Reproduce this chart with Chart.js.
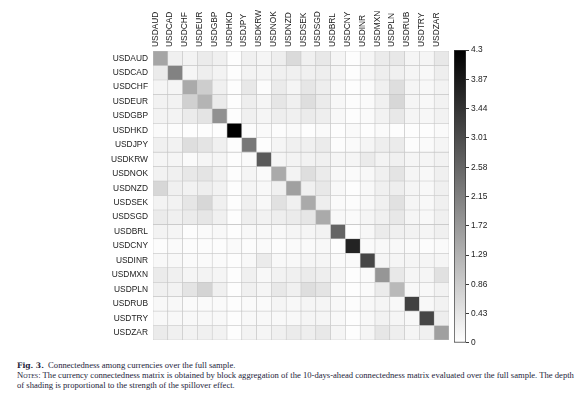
<!DOCTYPE html>
<html>
<head>
<meta charset="utf-8">
<script src="https://cdn.jsdelivr.net/npm/chart.js@4"></script>
<style>
    body { margin: 0; background: #fff; width: 584px; height: 393px; overflow: hidden; position: relative; }
    #matrixWrap { position: absolute; left: 0; top: 0; width: 460px; height: 350px; }
    #barWrap { position: absolute; left: 440px; top: 0; width: 144px; height: 350px; }
    .caption { position: absolute; left: 17px; font-family: "Liberation Serif", serif; font-size: 8.6px; color: #1d1d3a; white-space: nowrap; }
    .caption b { font-family: "DejaVu Serif", serif; font-size: 7.6px; }
    .sc { font-variant: small-caps; }
</style>
</head>
<body>
<div id="matrixWrap"><canvas id="matrix"></canvas></div>
<div id="barWrap"><canvas id="colorbar"></canvas></div>
<div class="caption" style="top: 360px;"><b>Fig. 3.</b>&nbsp; Connectedness among currencies over the full sample.</div>
<div class="caption" style="top: 370px;"><span class="sc">Notes</span>: The currency connectedness matrix is obtained by block aggregation of the 10-days-ahead connectedness matrix evaluated over the full sample. The depth</div>
<div class="caption" style="top: 379.5px;">of shading is proportional to the strength of the spillover effect.</div>

<script>
    const currencies = ["USDAUD", "USDCAD", "USDCHF", "USDEUR", "USDGBP", "USDHKD", "USDJPY", "USDKRW", "USDNOK", "USDNZD",
        "USDSEK", "USDSGD", "USDBRL", "USDCNY", "USDINR", "USDMXN", "USDPLN", "USDRUB", "USDTRY", "USDZAR"];

    // one row per "from" currency, columns in the same order as currencies
    const AUD = [1.52, 0.25, 0.20, 0.34, 0.25, 0.03, 0.25, 0.17, 0.29, 0.62, 0.25, 0.39, 0.17, 0.03, 0.17, 0.34, 0.39, 0.17, 0.17, 0.39];
    const CAD = [0.34, 2.11, 0.17, 0.29, 0.20, 0.03, 0.20, 0.17, 0.25, 0.25, 0.25, 0.29, 0.17, 0.03, 0.17, 0.29, 0.25, 0.17, 0.12, 0.29];
    const CHF = [0.17, 0.17, 1.43, 0.84, 0.25, 0.03, 0.39, 0.05, 0.34, 0.17, 0.42, 0.29, 0.12, 0.03, 0.08, 0.25, 0.56, 0.17, 0.12, 0.20];
    const EUR = [0.22, 0.22, 0.79, 1.26, 0.34, 0.03, 0.29, 0.17, 0.42, 0.25, 0.56, 0.34, 0.13, 0.05, 0.08, 0.25, 0.67, 0.17, 0.12, 0.22];
    const GBP = [0.20, 0.20, 0.34, 0.46, 1.85, 0.03, 0.25, 0.17, 0.29, 0.25, 0.34, 0.29, 0.12, 0.03, 0.08, 0.22, 0.39, 0.17, 0.13, 0.22];
    const HKD = [0.08, 0.05, 0.03, 0.03, 0.03, 4.30, 0.05, 0.08, 0.05, 0.08, 0.03, 0.08, 0.03, 0.08, 0.03, 0.08, 0.03, 0.03, 0.03, 0.08];
    const JPY = [0.25, 0.22, 0.56, 0.46, 0.25, 0.03, 2.28, 0.03, 0.17, 0.25, 0.25, 0.34, 0.05, 0.08, 0.17, 0.29, 0.34, 0.05, 0.08, 0.17];
    const KRW = [0.17, 0.17, 0.08, 0.17, 0.17, 0.03, 0.08, 2.78, 0.17, 0.20, 0.22, 0.25, 0.17, 0.17, 0.34, 0.20, 0.25, 0.17, 0.17, 0.22];
    const NOK = [0.22, 0.25, 0.39, 0.46, 0.25, 0.03, 0.17, 0.08, 1.43, 0.20, 0.56, 0.34, 0.12, 0.08, 0.12, 0.25, 0.46, 0.17, 0.12, 0.25];
    const NZD = [0.67, 0.25, 0.22, 0.29, 0.22, 0.03, 0.17, 0.12, 0.25, 1.60, 0.25, 0.39, 0.12, 0.03, 0.12, 0.25, 0.29, 0.17, 0.12, 0.25];
    const SEK = [0.20, 0.22, 0.42, 0.67, 0.25, 0.03, 0.25, 0.12, 0.51, 0.25, 1.43, 0.29, 0.08, 0.05, 0.12, 0.25, 0.51, 0.17, 0.12, 0.25];
    const SGD = [0.34, 0.25, 0.34, 0.42, 0.25, 0.03, 0.29, 0.22, 0.29, 0.34, 0.42, 1.43, 0.12, 0.08, 0.17, 0.25, 0.39, 0.17, 0.12, 0.25];
    const BRL = [0.20, 0.17, 0.05, 0.08, 0.12, 0.03, 0.12, 0.12, 0.12, 0.17, 0.17, 0.22, 2.61, 0.03, 0.13, 0.34, 0.25, 0.22, 0.17, 0.25];
    const CNY = [0.05, 0.08, 0.05, 0.05, 0.05, 0.08, 0.05, 0.08, 0.05, 0.08, 0.08, 0.12, 0.03, 3.71, 0.08, 0.12, 0.12, 0.08, 0.05, 0.08];
    const INR = [0.12, 0.12, 0.08, 0.08, 0.08, 0.03, 0.12, 0.34, 0.12, 0.12, 0.17, 0.17, 0.08, 0.08, 3.12, 0.17, 0.17, 0.17, 0.17, 0.17];
    const MXN = [0.34, 0.25, 0.17, 0.20, 0.17, 0.03, 0.25, 0.12, 0.22, 0.25, 0.34, 0.29, 0.17, 0.03, 0.08, 1.77, 0.39, 0.17, 0.17, 0.51];
    const PLN = [0.25, 0.22, 0.46, 0.72, 0.25, 0.03, 0.25, 0.17, 0.39, 0.25, 0.56, 0.46, 0.12, 0.03, 0.08, 0.34, 1.18, 0.12, 0.12, 0.22];
    const RUB = [0.12, 0.12, 0.08, 0.08, 0.08, 0.03, 0.08, 0.08, 0.17, 0.12, 0.17, 0.17, 0.12, 0.05, 0.12, 0.17, 0.12, 3.20, 0.12, 0.22];
    const TRY = [0.12, 0.12, 0.12, 0.12, 0.12, 0.03, 0.12, 0.12, 0.12, 0.12, 0.17, 0.17, 0.12, 0.03, 0.12, 0.22, 0.17, 0.12, 3.12, 0.29];
    const ZAR = [0.34, 0.25, 0.22, 0.25, 0.22, 0.03, 0.20, 0.17, 0.25, 0.34, 0.29, 0.39, 0.17, 0.03, 0.17, 0.42, 0.29, 0.17, 0.25, 1.60];

    const rows = [AUD, CAD, CHF, EUR, GBP, HKD, JPY, KRW, NOK, NZD, SEK, SGD, BRL, CNY, INR, MXN, PLN, RUB, TRY, ZAR];

    const scaleMax = 4.3;
    const colorTicks = ["0", "0.43", "0.86", "1.29", "1.72", "2.15", "2.58", "3.01", "3.44", "3.87", "4.3"];

    const labelFont = { family: "'Liberation Sans', Arial, sans-serif", size: 8.4 };

    function shade(v) {
        const g = Math.round(255 * (1 - Math.min(v, scaleMax) / scaleMax));
        return "rgb(" + g + ", " + g + ", " + g + ")";
    }

    // each row is a stack of unit-height bars, one per column
    const datasets = rows.map(function (row, r) {
        return {
            label: currencies[r],
            data: row.map(function () { return 1; }),
            backgroundColor: row.map(shade),
            borderColor: "#c6c6c6",
            borderWidth: 0.6,
            borderSkipped: false,
            barPercentage: 1,
            categoryPercentage: 1
        };
    });

    new Chart(document.getElementById("matrix"), {
        type: "bar",
        data: { labels: currencies, datasets: datasets },
        options: {
            responsive: true,
            maintainAspectRatio: false,
            animation: false,
            layout: { padding: { left: 0, top: 0, right: 11, bottom: 5 } },
            plugins: { legend: { display: false }, tooltip: { enabled: false } },
            scales: {
                x: {
                    position: "top",
                    stacked: true,
                    grid: { display: false, drawTicks: false },
                    border: { display: false },
                    ticks: { minRotation: 90, maxRotation: 90, autoSkip: false, padding: 4, labelOffset: 5, color: "#222", font: labelFont },
                    afterFit: function (scale) { scale.height = 51; }
                },
                y: {
                    stacked: true,
                    reverse: true,
                    min: 0,
                    max: currencies.length,
                    grid: { display: false, drawTicks: false },
                    border: { display: false },
                    afterBuildTicks: function (scale) {
                        scale.ticks = currencies.map(function (_, i) { return { value: i + 0.5 }; });
                    },
                    ticks: {
                        autoSkip: false,
                        padding: 5,
                        color: "#222",
                        font: labelFont,
                        callback: function (value, index) { return currencies[index]; }
                    },
                    afterFit: function (scale) { scale.width = 153; }
                }
            }
        }
    });

    // colour bar: a single bar from 0 to the maximum, filled with the grey ramp
    new Chart(document.getElementById("colorbar"), {
        type: "bar",
        data: {
            labels: ["scale"],
            datasets: [{
                data: [[0, scaleMax]],
                backgroundColor: function (ctx) {
                    const area = ctx.chart.chartArea;
                    if (!area) {
                        return "#888";
                    }
                    const gradient = ctx.chart.ctx.createLinearGradient(0, area.bottom, 0, area.top);
                    gradient.addColorStop(0, "#ffffff");
                    gradient.addColorStop(1, "#000000");
                    return gradient;
                },
                borderColor: "#3a3a3a",
                borderWidth: 1,
                borderSkipped: false,
                barPercentage: 1,
                categoryPercentage: 1
            }]
        },
        options: {
            responsive: true,
            maintainAspectRatio: false,
            animation: false,
            layout: { padding: { left: 14, top: 50, right: 0, bottom: 5 } },
            plugins: { legend: { display: false }, tooltip: { enabled: false } },
            scales: {
                x: { display: false },
                y: {
                    position: "right",
                    min: 0,
                    max: scaleMax,
                    border: { display: false },
                    grid: { drawOnChartArea: false, drawTicks: true, tickLength: 3, color: "#3a3a3a" },
                    afterBuildTicks: function (scale) {
                        scale.ticks = colorTicks.map(function (t) { return { value: parseFloat(t) }; });
                    },
                    ticks: {
                        padding: 2,
                        color: "#222",
                        font: labelFont,
                        callback: function (value, index) { return colorTicks[index]; }
                    },
                    afterFit: function (scale) { scale.width = 118; }
                }
            }
        }
    });
</script>
</body>
</html>
